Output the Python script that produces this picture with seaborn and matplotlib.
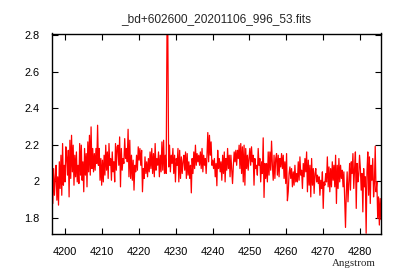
import numpy as np
import pandas as pd
import matplotlib
matplotlib.use("Agg")
import matplotlib.pyplot as plt
import seaborn as sns
from matplotlib.ticker import FuncFormatter

title = "_bd+602600_20201106_996_53.fits"
xlabel = "Angstrom"
x_ticks = [4200, 4210, 4220, 4230, 4240, 4250, 4260, 4270, 4280]
y_ticks = [1.8, 2.0, 2.2, 2.4, 2.6, 2.8]
seg_bounds = [4196.4, 4214.3, 4232.2, 4250.1, 4268.0, 4285.7]

flux_seg1 = [1.996, 1.878, 2.069, 1.923, 2.015, 2.087, 1.896, 2.024, 1.869, 2.106,
             1.960, 2.142, 1.923, 2.206, 1.978, 2.087, 1.996, 2.188, 2.124, 2.033,
             2.169, 1.914, 2.224, 2.015, 2.251, 2.051, 2.197, 1.978, 2.142, 2.024,
             2.160, 1.996, 2.087, 1.987, 2.206, 2.033, 2.197, 2.005, 2.106, 1.942,
             2.179, 2.033, 2.151, 1.969, 2.215, 2.051, 2.251, 2.033, 2.297, 2.069,
             2.179, 2.051, 2.151, 2.060, 2.179, 2.097, 2.306, 2.087, 2.179, 2.005,
             2.124, 1.978, 2.115, 1.996, 2.142, 2.033, 2.197, 2.060, 2.160, 2.015,
             2.206, 2.087, 2.124, 2.005, 2.160, 2.051, 2.106, 1.996, 2.206, 2.060,
             2.188]
flux_seg2 = [2.197, 2.087, 2.242, 1.969, 2.179, 2.060, 2.124, 2.097, 2.233, 2.124,
             2.179, 2.106, 2.284, 2.024, 2.224, 2.015, 2.142, 2.005, 2.115, 1.951,
             2.087, 2.051, 2.142, 2.060, 2.188, 2.115, 2.179, 2.087, 2.169, 1.942,
             2.069, 2.015, 2.133, 2.042, 2.106, 2.024, 2.124, 2.051, 2.160, 2.069,
             2.179, 2.042, 2.151, 2.024, 2.206, 2.060, 2.124, 2.087, 2.160, 2.024,
             2.142, 2.051, 2.215, 2.060, 2.224, 2.042, 2.142, 2.042, 2.808, 2.800,
             2.078, 2.197, 2.051, 2.142, 2.097, 2.179, 2.042, 2.142, 1.996, 2.124,
             2.087, 2.179, 1.996, 2.169, 2.015, 2.133, 2.042, 2.106]
flux_seg3 = [2.142, 2.060, 2.160, 2.015, 2.151, 2.033, 2.106, 2.015, 2.087, 1.936,
             2.124, 2.042, 2.160, 2.069, 2.197, 2.087, 2.151, 2.106, 2.142, 2.087,
             2.160, 2.069, 2.179, 2.051, 2.142, 2.087, 2.124, 2.042, 2.142, 2.266,
             2.106, 2.251, 2.142, 2.215, 2.087, 2.115, 2.069, 2.124, 2.024, 2.097,
             1.975, 2.169, 2.069, 2.124, 2.051, 2.106, 2.005, 2.142, 2.042, 2.160,
             1.996, 2.124, 2.060, 2.179, 2.069, 2.142, 2.024, 2.142, 2.069, 1.987,
             2.087, 2.160, 2.106, 2.169, 2.087, 2.169, 2.124, 2.197, 2.069, 2.206,
             2.042, 2.188, 1.996, 2.197, 1.978, 2.179, 2.069, 2.142, 2.060, 2.124]
flux_seg4 = [2.179, 2.087, 2.188, 2.106, 2.142, 1.978, 2.124, 2.069, 2.087, 2.033,
             2.179, 2.087, 2.124, 1.996, 2.106, 2.042, 2.237, 1.911, 2.097, 2.015,
             2.097, 1.996, 2.160, 2.033, 2.160, 2.060, 2.219, 2.087, 2.005, 2.142,
             2.015, 2.124, 2.151, 2.033, 2.142, 2.024, 2.124, 2.078, 2.151, 2.069,
             2.142, 2.015, 2.106, 1.987, 2.151, 1.893, 1.942, 2.042, 2.078, 2.015,
             2.069, 1.969, 2.051, 1.978, 2.087, 1.996, 2.042, 1.996, 2.106, 2.005,
             2.133, 2.033, 2.060, 1.960, 2.097, 2.024, 2.124, 2.051, 2.160, 1.942,
             2.115, 1.978, 2.087, 1.914, 2.124, 1.978, 2.069, 1.933, 2.042]
flux_seg5 = [2.069, 1.996, 2.033, 1.987, 2.024, 1.923, 2.005, 1.960, 2.051, 1.851,
             1.996, 1.978, 2.042, 1.996, 2.133, 1.969, 2.078, 1.942, 2.069, 1.969,
             2.106, 2.005, 2.087, 1.969, 2.142, 1.878, 2.087, 1.960, 2.124, 1.996,
             2.087, 2.015, 2.060, 1.969, 2.051, 1.896, 1.747, 1.942, 2.051, 1.887,
             1.996, 2.097, 1.951, 2.106, 2.042, 2.151, 1.960, 2.069, 2.160, 1.851,
             2.097, 1.996, 2.033, 2.142, 2.069, 1.951, 2.042, 1.832, 2.069, 1.969,
             2.024, 1.715, 2.051, 2.160, 1.923, 2.133, 1.878, 2.087, 2.005, 2.124,
             1.914, 1.987, 2.191, 1.942, 1.996, 1.796, 1.914, 1.760, 1.905, 1.790]

segs = [flux_seg1, flux_seg2, flux_seg3, flux_seg4, flux_seg5]
xs, ys = [], []
for i, seg in enumerate(segs):
    last = i == len(segs) - 1
    xs.append(np.linspace(seg_bounds[i], seg_bounds[i + 1], len(seg), endpoint=last))
    ys.append(np.array(seg))
df = pd.DataFrame({"wl": np.concatenate(xs), "flux": np.concatenate(ys)})

sns.set_style("ticks")
plt.rcParams["font.family"] = ["Liberation Sans", "DejaVu Sans"]

fig = plt.figure(figsize=(4.0, 2.8), dpi=100)
ax = fig.add_axes([52 / 400, 1 - 234 / 280, (381 - 52) / 400, (234 - 33.5) / 280])
sns.lineplot(data=df, x="wl", y="flux", ax=ax, color="#ff0000", lw=0.9,
             sort=False, estimator=None)

ax.set_xlim(seg_bounds[0], seg_bounds[-1])
ax.set_ylim(1.711, 2.808)
ax.set_xticks(x_ticks)
ax.set_yticks(y_ticks)
ax.yaxis.set_major_formatter(FuncFormatter(lambda v, p: "%g" % round(v, 2)))
ax.xaxis.set_major_formatter(FuncFormatter(lambda v, p: "%d" % v))
ax.tick_params(direction="in", length=4, width=0.8, top=True, right=True,
               labelsize=7.9, colors="black")
ax.tick_params(axis="x", pad=9.5)
ax.tick_params(axis="y", pad=9)
for s in ax.spines.values():
    s.set_linewidth(1.0)
    s.set_color("black")
ax.set_xlabel("")
ax.set_ylabel("")

fig.text(216.5 / 400, 1 - 19 / 280, title, ha="center", va="center", fontsize=8.6,
         family=["Liberation Sans", "DejaVu Sans"])
fig.text(376 / 400, 1 - 263 / 280, xlabel, ha="right", va="center", fontsize=7.8,
         family=["Liberation Serif", "DejaVu Serif"])

fig.savefig("out.png", dpi=100)
